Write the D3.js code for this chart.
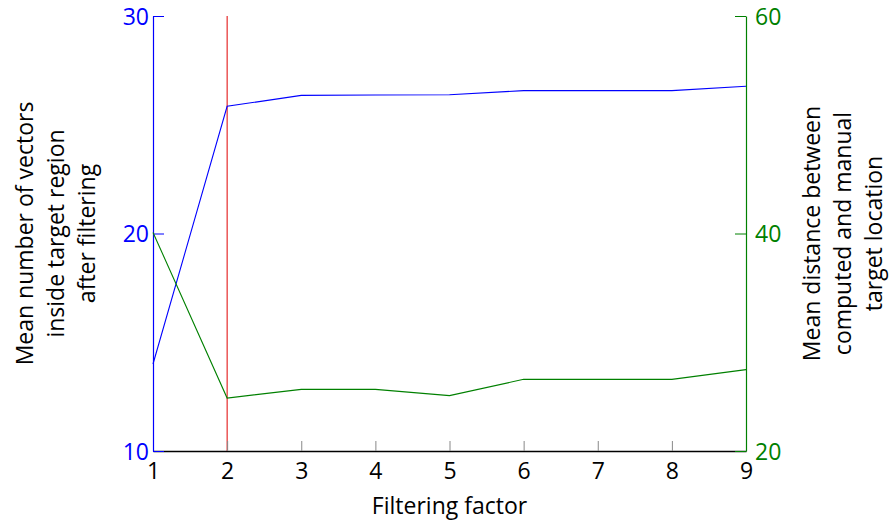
<!DOCTYPE html>
<html lang="en">
<head>
  <meta charset="UTF-8">
  <title>Filtering factor</title>
  <style>
    body { margin: 0; background: #fff; font-family: "Open Sans", sans-serif; }
    svg { display: block; }
    text { font-family: "Open Sans", sans-serif; }
  </style>
</head>
<body>
  <svg width="889" height="525"></svg>
  <script src="https://d3js.org/d3.v7.min.js"></script>
  <script>
    const factors = [1, 2, 3, 4, 5, 6, 7, 8, 9];
    const vectorsInside = [14.0, 25.85, 26.35, 26.37, 26.38, 26.57, 26.57, 26.57, 26.77];
    const meanDistance = [40.1, 24.87, 25.67, 25.67, 25.09, 26.59, 26.59, 26.59, 27.48];
    const leftTicks = [10, 20, 30];
    const rightTicks = [20, 40, 60];
    const markerX = 2;

    const svg = d3.select("svg");
    const m = { left: 153, right: 746, top: 16, bottom: 451 };
    const fs = 23;

    const x = d3.scaleLinear().domain([1, 9]).range([m.left, m.right]);
    const yL = d3.scaleLinear().domain([10, 30]).range([m.bottom, m.top]);
    const yR = d3.scaleLinear().domain([20, 60]).range([m.bottom, m.top]);

    const blue = "#0000ff", green = "#008000";

    // marker line
    svg.append("line")
      .attr("x1", x(markerX)).attr("x2", x(markerX))
      .attr("y1", m.top).attr("y2", m.bottom)
      .attr("stroke", "#e00000").attr("stroke-width", 1);

    // x axis, ticks pointing inward
    const gx = svg.append("g").attr("transform", `translate(0,${m.bottom})`)
      .call(d3.axisBottom(x).tickValues(factors).tickSize(-10).tickSizeOuter(0).tickPadding(28));
    gx.select(".domain").attr("stroke", "#000").attr("stroke-width", 1.3);
    gx.selectAll(".tick line").attr("stroke", "#888");
    gx.selectAll(".tick text").attr("font-size", fs).attr("fill", "#000").attr("dy", "0");

    // left axis
    const gl = svg.append("g").attr("transform", `translate(${m.left},0)`)
      .attr("color", blue)
      .call(d3.axisLeft(yL).tickValues(leftTicks).tickSize(-11).tickSizeOuter(0).tickPadding(4));
    gl.select(".domain").attr("stroke", blue).attr("stroke-width", 1.2);
    gl.selectAll(".tick line").attr("stroke", blue);
    gl.selectAll(".tick text").attr("font-size", fs).attr("fill", blue).attr("dy", "0.35em");

    // right axis
    const gr = svg.append("g").attr("transform", `translate(${m.right},0)`)
      .attr("color", green)
      .call(d3.axisRight(yR).tickValues(rightTicks).tickSize(-11).tickSizeOuter(0).tickPadding(9));
    gr.select(".domain").attr("stroke", green).attr("stroke-width", 1.2);
    gr.selectAll(".tick line").attr("stroke", green);
    gr.selectAll(".tick text").attr("font-size", fs).attr("fill", green).attr("dy", "0.35em");

    // series
    svg.append("path")
      .datum(factors.map((f, i) => [f, vectorsInside[i]]))
      .attr("fill", "none").attr("stroke", blue).attr("stroke-width", 1.1)
      .attr("d", d3.line().x(d => x(d[0])).y(d => yL(d[1])));

    svg.append("path")
      .datum(factors.map((f, i) => [f, meanDistance[i]]))
      .attr("fill", "none").attr("stroke", green).attr("stroke-width", 1.1)
      .attr("d", d3.line().x(d => x(d[0])).y(d => yR(d[1])));

    // labels
    svg.append("text")
      .attr("x", (m.left + m.right) / 2).attr("y", 514)
      .attr("text-anchor", "middle").attr("font-size", fs)
      .text("Filtering factor");

    const leftLabel = ["Mean number of vectors", "inside target region", "after filtering"];
    const rightLabel = ["Mean distance between", "computed and manual", "target location"];
    const cy = (m.top + m.bottom) / 2;

    svg.append("g").attr("transform", `translate(0,${cy}) rotate(-90)`)
      .selectAll("text").data(leftLabel).join("text")
      .attr("x", 0).attr("y", (d, i) => 33 + i * 31)
      .attr("text-anchor", "middle").attr("font-size", fs)
      .text(d => d);

    svg.append("g").attr("transform", `translate(0,${cy}) rotate(-90)`)
      .selectAll("text").data(rightLabel).join("text")
      .attr("x", 0).attr("y", (d, i) => 820 + i * 31)
      .attr("text-anchor", "middle").attr("font-size", fs)
      .text(d => d);
  </script>
</body>
</html>
